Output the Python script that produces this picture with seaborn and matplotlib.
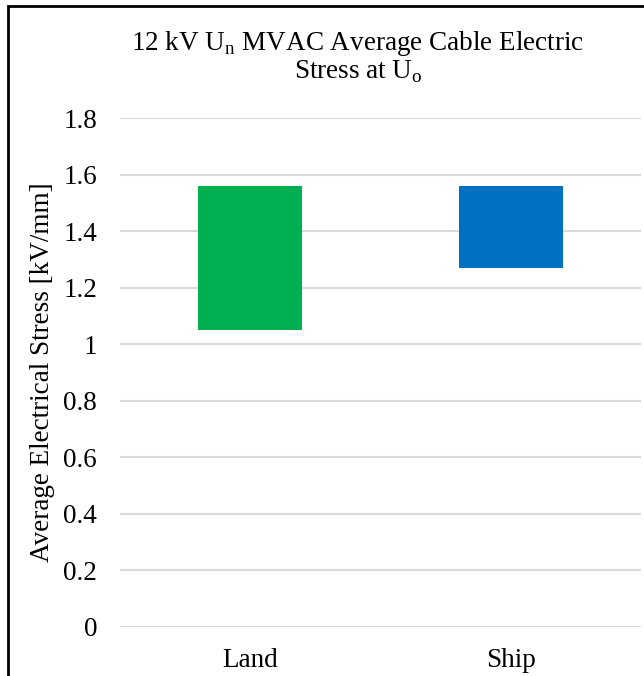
import matplotlib
matplotlib.use("Agg")
import matplotlib.pyplot as plt
import seaborn as sns
from matplotlib.patches import Rectangle

categories = ["Land", "Ship"]
low_values = [1.05, 1.27]
high_values = [1.56, 1.56]
bar_colors = ["#00B050", "#0070C0"]
yticks = [0, 0.2, 0.4, 0.6, 0.8, 1.0, 1.2, 1.4, 1.6, 1.8]
ytick_labels = ["0", "0.2", "0.4", "0.6", "0.8", "1", "1.2", "1.4", "1.6", "1.8"]

sns.set_theme(style="white")
plt.rcParams["font.family"] = ["Liberation Serif", "DejaVu Serif"]
plt.rcParams["mathtext.fontset"] = "custom"
plt.rcParams["mathtext.rm"] = "Liberation Serif"

FS = 19.5
W, H = 644, 676
fig = plt.figure(figsize=(W / 100, H / 100), dpi=100)
fig.patch.set_facecolor("white")

left, right, top, bottom = 120, 641, 118, 627
ax = fig.add_axes([left / W, 1 - bottom / H, (right - left) / W, (bottom - top) / H])

for cat, lo, hi, col in zip(categories, low_values, high_values, bar_colors):
    sns.barplot(x=[cat], y=[hi - lo], bottom=lo, order=categories, color=col,
                width=0.4, saturation=1, ax=ax, edgecolor="none", zorder=3)

ax.set_ylim(0, 1.8)
ax.set_xlim(-0.5, 1.5)
ax.set_yticks(yticks)
ax.set_yticklabels(ytick_labels)
ax.yaxis.grid(True, color="#D9D9D9", linewidth=1.5, zorder=0)
ax.xaxis.grid(False)
ax.set_axisbelow(True)
for s in ax.spines.values():
    s.set_visible(False)
ax.tick_params(axis="y", length=0, pad=16.5, labelsize=FS, labelcolor="#000000")
ax.tick_params(axis="x", length=0, pad=15, labelsize=FS, labelcolor="#000000")
ax.set_xlabel("")
ax.set_ylabel("Average Electrical Stress [kV/mm]", fontsize=FS, color="#000000", labelpad=6)

fig.text(358 / W, 1 - 44 / H, r"12 kV U$_\mathregular{n}$ MVAC Average Cable Electric",
         ha="center", va="center", fontsize=FS, color="#000000")
fig.text(358 / W, 1 - 72 / H, r"Stress at U$_\mathregular{o}$",
         ha="center", va="center", fontsize=FS, color="#000000")

fig.patches.append(Rectangle((8 / W, -0.1), 1.2, 1 - 6 / H + 0.1, transform=fig.transFigure,
                             fill=False, edgecolor="black", linewidth=2, clip_on=False))

fig.savefig("out.png", dpi=100, facecolor="white")
